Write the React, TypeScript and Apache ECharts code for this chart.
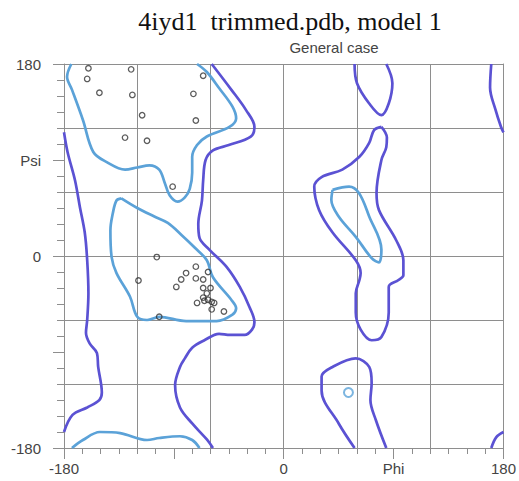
import React, { useEffect, useRef } from 'react';
import * as echarts from 'echarts';

const titleText = '4iyd1  trimmed.pdb, model 1';
const subtitleText = 'General case';

const xTickValues = [-180, -90, 0, 90, 180];
const xTickLabels = ['-180', '', '0', 'Phi', '180'];
const yTickValues = [-180, -90, 0, 90, 180];
const yTickLabels = ['-180', '', '0', 'Psi', '180'];

// Allowed (outer) contour pieces, [phi, psi]
const allowedAlphaBeta = [
  [-59, 180], [-43, 156], [-31, 137], [-24, 121], [-27, 112], [-45, 104], [-58, 99], [-64, 90],
  [-66, 71], [-67, 52], [-70, 30], [-69, 17], [-61, 6], [-47, -10], [-36, -29], [-28, -48],
  [-24, -62], [-26, -69], [-32, -74], [-44, -74], [-53, -73], [-65, -79], [-75, -86], [-81, -96],
  [-85, -104], [-89, -121], [-85, -142], [-75, -157], [-63, -172], [-58, -180],
];
const allowedLeftBand = [
  [-180, 116], [-177, 97], [-171, 71], [-167, 46], [-163, 22], [-161, -4], [-160, -35], [-161, -60],
  [-162, -72], [-159, -82], [-153, -91], [-152, -104], [-149, -128], [-151, -135], [-161, -142],
  [-173, -149], [-180, -165],
];
const allowedRightTop = [[170, 180], [169, 158], [173.5, 137], [178, 121], [180, 116]];
const allowedRightBottom = [[170, -180], [174, -170], [180, -165]];
const allowedTopLoop = [[58, 180], [60, 162], [70, 143], [80, 132], [86, 143], [89, 162], [84, 180]];
const allowedBottomLoop = [
  [58, -180], [45, -157], [31, -126], [31, -113], [40, -104], [59, -96], [70, -104], [72, -119],
  [71, -135], [75.5, -154], [84, -180],
];
const allowedLeftHanded = [
  [80, 121], [84.5, 111], [84, 102], [80, 90], [76, 59], [78, 43], [92, 15], [98, -4], [98, -18],
  [94, -22.5], [86, -29], [86, -53], [80, -76], [72, -79], [63, -69], [59, -53], [59, -35],
  [62, -22.5], [63, -16], [59, -4], [40, 22], [29, 43], [25, 65], [31, 74], [48, 81], [62, 93],
  [70, 106], [74, 118], [80, 121],
];

// Favoured (inner) contour pieces
const favouredLeftHanded = [
  [40, 62], [53.5, 65], [61.6, 59], [70, 37], [80, 6], [78, -6], [72, -2], [59, 18], [45, 37],
  [39, 52.5], [40, 62],
];
const favouredBeta = [
  [-174, 180], [-177.5, 168], [-173.5, 156], [-164.5, 127.5], [-156, 97.5], [-145, 88], [-130, 81],
  [-120, 83], [-110, 85], [-102, 81], [-97.6, 69], [-93.5, 57], [-87, 51], [-81, 55], [-77, 63],
  [-75, 78], [-75, 93], [-71, 104], [-63, 112], [-44.5, 121], [-39, 129], [-42, 140], [-53, 157.5],
  [-63, 172.5], [-71, 180],
];
const favouredBetaBottom = [
  [-173.5, -180], [-164.5, -172.5], [-150.6, -165], [-134, -166], [-112, -172.5], [-102, -170.6],
  [-85, -169], [-75, -172.5], [-69, -180],
];
const favouredAlpha = [
  [-133, 54], [-120, 45], [-106, 37], [-95, 31], [-84, 20], [-73, 8], [-63, -4], [-58, -20],
  [-43, -41], [-39, -49], [-42, -55], [-55, -61], [-80, -61], [-102, -57], [-112, -60], [-120, -57],
  [-126, -38], [-137, -16], [-141, -1], [-142, 24], [-140, 40], [-137, 52], [-133, 54],
];

// Residues
const residues = [
  [-160, 176], [-125, 175], [-161, 166], [-66, 169], [-151, 153], [-124, 151], [-74, 152],
  [-116, 132], [-72, 127], [-130, 111], [-112, 108], [-91, 65],
  [-104, -1], [-119, -23], [-72, -10], [-80, -16], [-62, -15], [-84, -22], [-72, -21], [-66, -22],
  [-88, -29], [-66, -30], [-60, -30], [-63, -35], [-66, -39], [-65, -42], [-62, -41], [-59, -43],
  [-57, -44], [-71, -44], [-59, -50], [-49, -52], [-102, -57],
];
const outlierResidues = [[53, -128]];

const PURPLE = '#5b52d3';
const BLUE = '#5ba2d8';
const GRID = '#8e8e8e';

function contour(data: number[][], color: string) {
  return {
    type: 'line',
    data,
    smooth: 0.35,
    symbol: 'none',
    silent: true,
    lineStyle: { color, width: 2.7 },
    z: 2,
  };
}

export default function App() {
  const ref = useRef<HTMLDivElement>(null);
  useEffect(() => {
    const chart = echarts.init(ref.current!, null, { renderer: 'svg' });
    const xFmt = (v: number) => {
      const i = xTickValues.indexOf(v);
      return i >= 0 ? xTickLabels[i] : '';
    };
    const yFmt = (v: number) => {
      const i = yTickValues.indexOf(v);
      return i >= 0 ? yTickLabels[i] : '';
    };
    const labelStyle = { color: '#444', fontSize: 15, fontFamily: 'Liberation Sans, Arial, sans-serif' };
    chart.setOption({
      animation: false,
      backgroundColor: '#fff',
      grid: { left: 64, right: 14, top: 64, bottom: 33, containLabel: false },
      graphic: [
        {
          type: 'text', x: 290, y: 21,
          style: {
            text: titleText, fill: '#111', textAlign: 'center', textVerticalAlign: 'middle',
            font: '26px "Liberation Serif", "Times New Roman", serif',
          },
        },
        {
          type: 'text', x: 334, y: 47,
          style: {
            text: subtitleText, fill: '#444', textAlign: 'center', textVerticalAlign: 'middle',
            font: '15px "Liberation Sans", Arial, sans-serif',
          },
        },
      ],
      xAxis: [
        {
          type: 'value', min: -180, max: 180, interval: 90, position: 'bottom',
          axisLine: { show: true, onZero: false, lineStyle: { color: GRID, width: 1 } },
          axisTick: { show: true, length: 11, lineStyle: { color: GRID } },
          minorTick: { show: true, splitNumber: 6, length: 6, lineStyle: { color: GRID } },
          axisLabel: { ...labelStyle, margin: 13, formatter: xFmt },
          splitLine: { show: false },
        },
        {
          type: 'value', min: -180, max: 180, interval: 60, position: 'top',
          axisLine: { show: true, onZero: false, lineStyle: { color: GRID, width: 1 } },
          axisTick: { show: false },
          axisLabel: { show: false },
          splitLine: { show: true, lineStyle: { color: GRID, width: 1 } },
        },
      ],
      yAxis: [
        {
          type: 'value', min: -180, max: 180, interval: 90, position: 'left',
          axisLine: { show: true, onZero: false, lineStyle: { color: GRID, width: 1 } },
          axisTick: { show: true, length: 11, lineStyle: { color: GRID } },
          minorTick: { show: true, splitNumber: 6, length: 7, lineStyle: { color: GRID } },
          axisLabel: { ...labelStyle, margin: 23, formatter: yFmt },
          splitLine: { show: false },
        },
        {
          type: 'value', min: -180, max: 180, interval: 180, position: 'left',
          axisLine: { show: false },
          axisTick: { show: true, length: 17, lineStyle: { color: GRID } },
          axisLabel: { show: false },
          splitLine: { show: false },
        },
        {
          type: 'value', min: -180, max: 180, interval: 60, position: 'right',
          axisLine: { show: true, onZero: false, lineStyle: { color: GRID, width: 1 } },
          axisTick: { show: false },
          axisLabel: { show: false },
          splitLine: { show: true, lineStyle: { color: GRID, width: 1 } },
        },
      ],
      series: [
        contour(allowedAlphaBeta, PURPLE),
        contour(allowedLeftBand, PURPLE),
        contour(allowedRightTop, PURPLE),
        contour(allowedRightBottom, PURPLE),
        contour(allowedTopLoop, PURPLE),
        contour(allowedBottomLoop, PURPLE),
        contour(allowedLeftHanded, PURPLE),
        contour(favouredLeftHanded, BLUE),
        contour(favouredBeta, BLUE),
        contour(favouredBetaBottom, BLUE),
        contour(favouredAlpha, BLUE),
        {
          type: 'scatter', data: residues, symbol: 'circle', symbolSize: 5.5, silent: true, z: 3,
          itemStyle: { color: 'rgba(255,255,255,0)', borderColor: '#333', borderWidth: 1.3 },
        },
        {
          type: 'scatter', data: outlierResidues, symbol: 'circle', symbolSize: 9, silent: true, z: 3,
          itemStyle: { color: 'rgba(255,255,255,0)', borderColor: BLUE, borderWidth: 2 },
        },
      ],
    });
    return () => chart.dispose();
  }, []);
  return (
    <div
      ref={ref}
      style={{ position: 'fixed', left: 0, top: 0, width: 519, height: 481, background: '#fff' }}
    />
  );
}
